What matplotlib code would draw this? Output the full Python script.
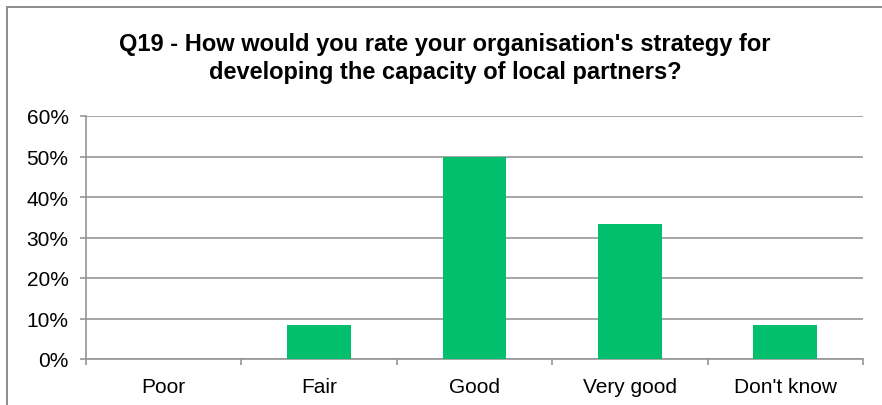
import matplotlib
matplotlib.use("Agg")
import matplotlib.pyplot as plt
from matplotlib.patches import Rectangle
import numpy as np

categories = ["Poor", "Fair", "Good", "Very good", "Don't know"]
values = [0.0, 8.33, 50.0, 33.33, 8.33]
yticks = [0, 10, 20, 30, 40, 50, 60]
ytick_labels = ["0%", "10%", "20%", "30%", "40%", "50%", "60%"]
title = "Q19 - How would you rate your organisation's strategy for\ndeveloping the capacity of local partners?"

plt.rcParams['font.family'] = ['Liberation Sans', 'DejaVu Sans']

W, H = 882, 406
fig = plt.figure(figsize=(W / 100, H / 100), dpi=100)
fig.patch.set_facecolor('white')

# outer chart border (cropped at right/bottom)
fig.patches.append(Rectangle((7 / W, -0.05), 1.1, (H - 8) / H + 0.05,
                             transform=fig.transFigure, fill=False,
                             edgecolor='#8c8c8c', linewidth=1.4))

ax = fig.add_axes([86 / W, (H - 360) / H, (863 - 86) / W, (360 - 117) / H])
grid_c = '#969696'
x = np.arange(len(categories))
ax.bar(x, values, width=0.41, color='#02BF6E', zorder=3)

ax.set_xlim(-0.5, len(categories) - 0.5)
ax.set_ylim(0, 60)
ax.set_yticks(yticks)
ax.set_yticklabels(ytick_labels)
ax.yaxis.grid(True, color=grid_c, linewidth=1.2, zorder=0)
ax.set_axisbelow(True)

ax.set_xticks(x)
ax.set_xticklabels(categories)
ax.set_xticks(np.arange(len(categories) + 1) - 0.5, minor=True)
ax.tick_params(axis='x', which='major', length=0, labelsize=15, pad=13)
ax.tick_params(axis='x', which='minor', length=4.5, width=1.2, color=grid_c)
ax.tick_params(axis='y', length=4.5, width=1.2, color=grid_c, labelsize=15, pad=8)

for s in ['top', 'right']:
    ax.spines[s].set_visible(False)
for s in ['left', 'bottom']:
    ax.spines[s].set_color(grid_c)
    ax.spines[s].set_linewidth(1.2)

fig.text(445 / W, 1 - 33 / H, title, ha='center', va='top', fontsize=17,
         fontweight='bold', linespacing=1.25)

fig.savefig("out.png", dpi=100)
